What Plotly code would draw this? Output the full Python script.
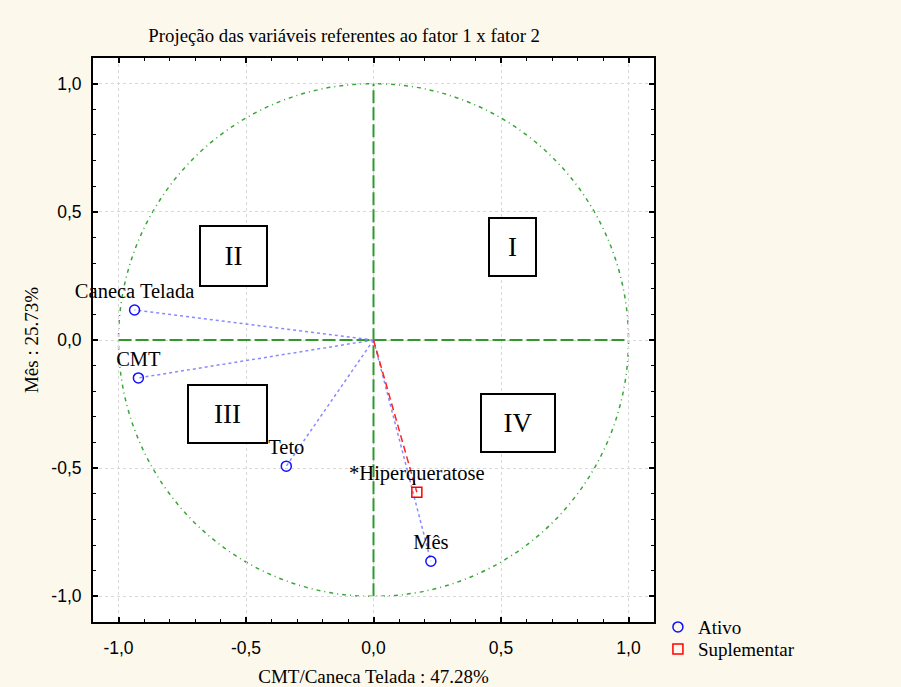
import plotly.graph_objects as go

# Active variables
ativo_labels = ["Caneca Telada", "CMT", "Teto", "Mês"]
ativo_x = [-0.937, -0.922, -0.342, 0.225]
ativo_y = [0.117, -0.148, -0.492, -0.863]

# Supplementary variables
supl_labels = ["*Hiperqueratose"]
supl_x = [0.170]
supl_y = [-0.594]

tick_vals = [-1.0, -0.5, 0.0, 0.5, 1.0]
tick_text = ["-1,0", "-0,5", "0,0", "0,5", "1,0"]

quadrants = ["I", "II", "III", "IV"]

SERIF = "Liberation Serif, Times New Roman, serif"
SANS = "Liberation Sans, Arial, sans-serif"
GREEN = "#2e9a2e"
CIRCLE_GREEN = "#3aa63a"
BG = "#fdf8ec"


def rays(xs, ys):
    rx, ry = [], []
    for a, b in zip(xs, ys):
        rx += [0, a, None]
        ry += [0, b, None]
    return rx, ry


fig = go.Figure()

# Reference axes through origin (from -1 to 1)
fig.add_trace(go.Scatter(x=[tick_vals[0], tick_vals[-1]], y=[0, 0], mode="lines",
                         line=dict(color=GREEN, width=2, dash="13px,4px"),
                         showlegend=False, hoverinfo="skip"))
fig.add_trace(go.Scatter(x=[0, 0], y=[tick_vals[0], tick_vals[-1]], mode="lines",
                         line=dict(color=GREEN, width=2, dash="13px,4px"),
                         showlegend=False, hoverinfo="skip"))

# Rays from origin
ax_, ay_ = rays(ativo_x, ativo_y)
fig.add_trace(go.Scatter(x=ax_, y=ay_, mode="lines",
                         line=dict(color="#8a8aff", width=1.5, dash="dot"),
                         showlegend=False, hoverinfo="skip"))
sx_, sy_ = rays(supl_x, supl_y)
fig.add_trace(go.Scatter(x=sx_, y=sy_, mode="lines",
                         line=dict(color="#ff2020", width=1.5, dash="7px,4px"),
                         showlegend=False, hoverinfo="skip"))

# Points
fig.add_trace(go.Scatter(x=ativo_x, y=ativo_y, mode="markers+text", name="Ativo",
                         text=ativo_labels, textposition="top center", cliponaxis=False,
                         textfont=dict(family=SERIF, size=20.5, color="black"),
                         marker=dict(symbol="circle-open", size=10, color="#1010ff",
                                     line=dict(width=1.5, color="#1010ff")),
                         legend="legend"))
fig.add_trace(go.Scatter(x=supl_x, y=supl_y, mode="markers+text", name="Suplementar",
                         text=supl_labels, textposition="top center", cliponaxis=False,
                         textfont=dict(family=SERIF, size=20.5, color="black"),
                         marker=dict(symbol="square-open", size=10, color="#ff0000",
                                     line=dict(width=1.5, color="#ff0000")),
                         legend="legend2"))

# Unit circle
fig.add_shape(type="circle", xref="x", yref="y", x0=-1, y0=-1, x1=1, y1=1,
              line=dict(color=CIRCLE_GREEN, width=1.5, dash="4px,4px,1px,4px"),
              layer="below")

# Quadrant boxes
quad_pos = {"I": (0.544, 0.363, 45, 56), "II": (-0.548, 0.328, 65, 58),
            "III": (-0.571, -0.289, 77, 56), "IV": (0.566, -0.324, 72, 56)}
for q in quadrants:
    qx, qy, w, h = quad_pos[q]
    fig.add_annotation(x=qx, y=qy, xref="x", yref="y", text=q, showarrow=False,
                       font=dict(family=SERIF, size=27, color="black"),
                       bordercolor="black", borderwidth=2, borderpad=0,
                       width=w, height=h, bgcolor="white")

axis_common = dict(
    range=[-1.1, 1.1], tickmode="array", tickvals=tick_vals, ticktext=tick_text,
    ticks="inside", ticklen=5, tickwidth=1.5, tickcolor="black",
    showline=True, linecolor="black", linewidth=2, mirror="ticks",
    showgrid=True, gridcolor="#d8d8d8", griddash="dot", gridwidth=1,
    zeroline=False, automargin=False,
    tickfont=dict(family=SANS, size=17.5, color="black"),
    minor=dict(tickmode="linear", tick0=0, dtick=0.1, ticks="inside", ticklen=3,
               tickwidth=1, tickcolor="black", showgrid=False),
)

legend_common = dict(xanchor="left", yanchor="middle", bgcolor="rgba(0,0,0,0)",
                     font=dict(family=SERIF, size=19, color="black"), itemwidth=30)

fig.update_layout(
    width=901, height=687,
    margin=dict(l=93, r=247, t=58, b=65, autoexpand=False),
    paper_bgcolor=BG, plot_bgcolor="white",
    title=dict(text="Projeção das variáveis referentes ao fator 1 x fator 2",
               font=dict(family=SERIF, size=18.8, color="black"),
               x=0.382, xref="container", xanchor="center",
               y=1 - 35 / 687, yref="container", yanchor="middle"),
    xaxis=dict(axis_common, ticklabelstandoff=9,
               title=dict(text="CMT/Caneca Telada : 47.28%",
                          font=dict(family=SERIF, size=19, color="black"),
                          standoff=15)),
    yaxis=dict(axis_common, ticklabelstandoff=6,
               title=dict(text="Mês : 25.73%",
                          font=dict(family=SERIF, size=19, color="black"),
                          standoff=8)),
    legend=dict(legend_common, x=1.007, y=-0.009),
    legend2=dict(legend_common, x=1.007, y=-0.048),
    showlegend=True,
)

fig.write_html(
    "out.html",
    config={"displayModeBar": False},
    post_script="document.body.style.margin='0';document.body.style.background='%s';" % BG,
)
